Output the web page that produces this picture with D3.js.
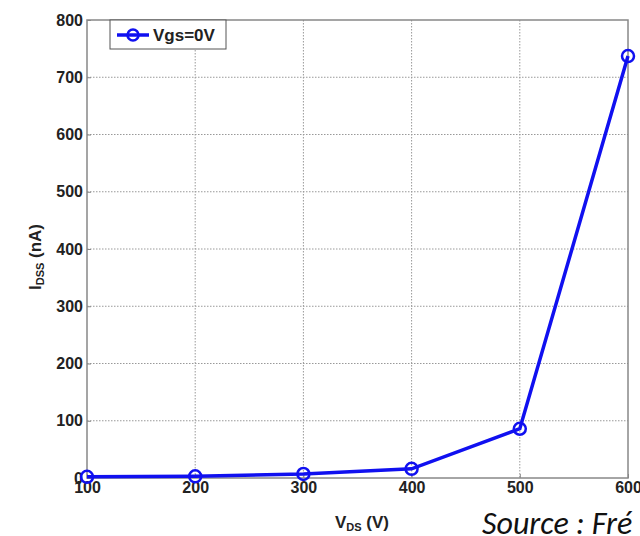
<!DOCTYPE html>
<html>
<head>
<meta charset="utf-8">
<script src="https://cdn.jsdelivr.net/npm/d3@7"></script>
<style>
  body { margin: 0; background: #fff; overflow: hidden; }
  svg { display: block; }
</style>
</head>
<body>
<script>
// data
let vdsValues = [100, 200, 300, 400, 500, 600];
let idssValues = [2, 3, 7, 16, 86, 737];
let xTicks = [100, 200, 300, 400, 500, 600];
let yTicks = [0, 100, 200, 300, 400, 500, 600, 700, 800];
let seriesName = "Vgs=0V";

let width = 640;
let height = 536;
let margin = { left: 87, top: 20, right: 12, bottom: 58 };
let plotW = width - margin.left - margin.right;
let plotH = height - margin.top - margin.bottom;
let font = "Arial, 'Liberation Sans', sans-serif";

let svg = d3.select("body").append("svg")
  .attr("width", width)
  .attr("height", height);

let g = svg.append("g")
  .attr("transform", `translate(${margin.left}, ${margin.top})`);

let xScale = d3.scaleLinear().domain([100, 600]).range([0, plotW]);
let yScale = d3.scaleLinear().domain([0, 800]).range([plotH, 0]);

// grid
g.append("g").selectAll("line").data(xTicks.slice(1, -1))
  .enter().append("line")
  .attr("x1", d => xScale(d)).attr("x2", d => xScale(d))
  .attr("y1", 0).attr("y2", plotH)
  .style("stroke", "#999").style("stroke-width", 1)
  .style("stroke-dasharray", "1.5,1.5");
g.append("g").selectAll("line").data(yTicks.slice(1, -1))
  .enter().append("line")
  .attr("x1", 0).attr("x2", plotW)
  .attr("y1", d => yScale(d)).attr("y2", d => yScale(d))
  .style("stroke", "#999").style("stroke-width", 1)
  .style("stroke-dasharray", "1.5,1.5");

// frame
g.append("rect")
  .attr("width", plotW).attr("height", plotH)
  .attr("fill", "none")
  .style("stroke", "#888").style("stroke-width", 1.5);

// axes
let xAxis = d3.axisBottom(xScale).tickValues(xTicks).tickSize(4).tickPadding(2);
let gX = g.append("g")
  .attr("transform", `translate(0, ${plotH})`)
  .call(xAxis);
gX.select(".domain").remove();
gX.selectAll(".tick line").attr("y2", -4).style("stroke", "#888");
gX.selectAll("text")
  .attr("y", 4)
  .style("font-family", font)
  .style("font-weight", "bold").style("font-size", "16px")
  .style("fill", "#222");

let yAxis = d3.axisLeft(yScale).tickValues(yTicks).tickSize(4).tickPadding(2);
let gY = g.append("g").call(yAxis);
gY.select(".domain").remove();
gY.selectAll(".tick line").attr("x2", 4).style("stroke", "#888");
gY.selectAll("text")
  .attr("x", -4)
  .style("font-family", font)
  .style("font-weight", "bold").style("font-size", "16px")
  .style("fill", "#222");

// axis labels
let xLabel = svg.append("text")
  .attr("x", 362).attr("y", 528)
  .attr("text-anchor", "middle")
  .style("font-family", font)
  .style("font-weight", "bold").style("font-size", "17px")
  .style("fill", "#222");
xLabel.append("tspan").text("V");
xLabel.append("tspan").text("DS").style("font-size", "11px").attr("dy", 3);
xLabel.append("tspan").text(" (V)").attr("dy", -3);

let yLabel = svg.append("text")
  .attr("transform", "translate(41, 257) rotate(-90)")
  .attr("text-anchor", "middle")
  .style("font-family", font)
  .style("font-weight", "bold").style("font-size", "17px")
  .style("fill", "#222");
yLabel.append("tspan").text("I");
yLabel.append("tspan").text("DSS").style("font-size", "11px").attr("dy", 3);
yLabel.append("tspan").text(" (nA)").attr("dy", -3);

// series
let blue = "#1010f0";
let points = vdsValues.map((v, i) => ({ x: v, y: idssValues[i] }));
let line = d3.line().x(d => xScale(d.x)).y(d => yScale(d.y));
g.append("path")
  .datum(points)
  .attr("d", line)
  .attr("fill", "none")
  .style("stroke", blue).style("stroke-width", 3.5);
g.selectAll("circle.pt").data(points)
  .enter().append("circle")
  .classed("pt", true)
  .attr("cx", d => xScale(d.x))
  .attr("cy", d => yScale(d.y))
  .attr("r", 6)
  .attr("fill", "none")
  .style("stroke", blue).style("stroke-width", 2.5);

// legend
let legend = svg.append("g").attr("transform", "translate(110, 20)");
legend.append("rect")
  .attr("width", 116).attr("height", 29)
  .attr("fill", "#fff")
  .style("stroke", "#555").style("stroke-width", 1);
legend.append("line")
  .attr("x1", 7).attr("x2", 39).attr("y1", 15).attr("y2", 15)
  .style("stroke", blue).style("stroke-width", 3.5);
legend.append("circle")
  .attr("cx", 23).attr("cy", 15).attr("r", 5.5)
  .attr("fill", "none")
  .style("stroke", blue).style("stroke-width", 2.5);
legend.append("text")
  .attr("x", 43).attr("y", 21)
  .text(seriesName)
  .style("font-family", font)
  .style("font-weight", "bold").style("font-size", "17px")
  .style("fill", "#222");

// source note
svg.append("text")
  .attr("x", 482).attr("y", 534)
  .text("Source : Fré")
  .style("font-family", "Carlito, 'Open Sans', sans-serif")
  .style("font-style", "italic").style("font-size", "32px")
  .style("fill", "#111");
</script>
</body>
</html>
